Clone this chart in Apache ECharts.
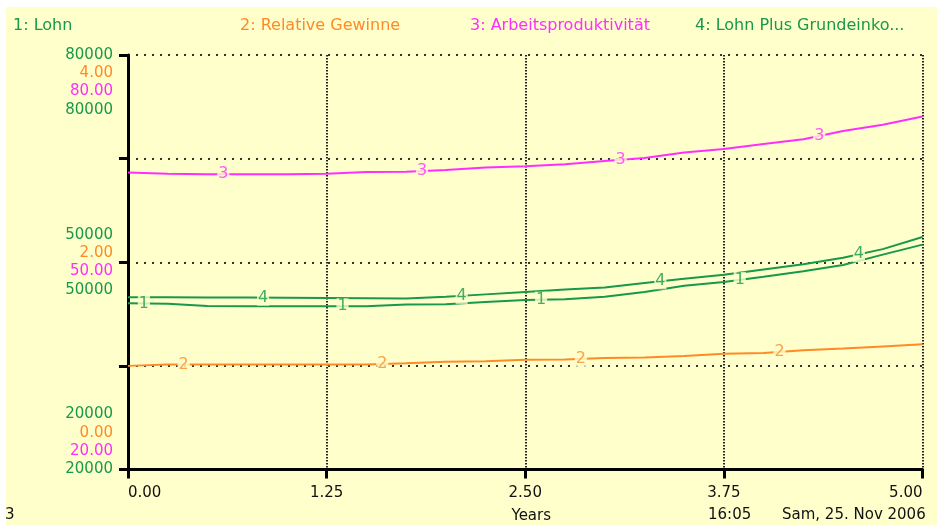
<!DOCTYPE html>
<html>
<head>
<meta charset="utf-8">
<script src="https://cdn.jsdelivr.net/npm/echarts@6/dist/echarts.min.js"></script>
<style>
  html, body { margin: 0; padding: 0; background: #ffffff; }
  #chart { width: 937px; height: 525px; }
</style>
</head>
<body>
<div id="chart"></div>
<script>
// ---- data ----
const seriesNames = ['1: Lohn', '2: Relative Gewinne', '3: Arbeitsproduktivität', '4: Lohn Plus Grundeinko...'];
const times = [0, 0.25, 0.5, 0.75, 1, 1.25, 1.5, 1.75, 2, 2.25, 2.5, 2.75, 3, 3.25, 3.5, 3.75, 4, 4.25, 4.5, 4.75, 5];
const lohn = [44050, 44000, 43650, 43620, 43620, 43620, 43640, 43900, 43920, 44250, 44550, 44650, 45000, 45700, 46600, 47150, 47900, 48700, 49600, 51100, 52550];
const gewinne = [1.00, 1.014, 1.014, 1.014, 1.014, 1.014, 1.014, 1.025, 1.041, 1.045, 1.060, 1.062, 1.075, 1.080, 1.095, 1.118, 1.125, 1.150, 1.168, 1.188, 1.208];
const produkt = [63.0, 62.8, 62.75, 62.75, 62.75, 62.8, 63.05, 63.1, 63.35, 63.7, 63.9, 64.2, 64.65, 65.1, 65.9, 66.4, 67.1, 67.8, 69.0, 69.9, 71.1];
const plus = [44950, 44950, 44900, 44880, 44850, 44830, 44800, 44760, 45000, 45350, 45700, 46050, 46350, 47000, 47600, 48200, 48950, 49700, 50650, 51900, 53650];

const xTicks = ['0.00', '1.25', '2.50', '3.75', '5.00'];
const lohnTicks = ['20000', '50000', '80000'];
const gewinneTicks = ['0.00', '2.00', '4.00'];
const produktTicks = ['20.00', '50.00', '80.00'];
const plusTicks = ['20000', '50000', '80000'];

// ---- styles ----
const GREEN = '#17984b';
const ORANGE = '#ff8a26';
const MAGENTA = '#ff2eff';
const BG = '#ffffcc';
const FONT = 'DejaVu Sans';
const colors = [GREEN, ORANGE, MAGENTA, GREEN];
const allData = [lohn, gewinne, produkt, plus];

function interp(ts, vs, t) {
  for (let i = 0; i < ts.length - 1; i++) {
    if (t >= ts[i] && t <= ts[i + 1]) {
      const f = (t - ts[i]) / (ts[i + 1] - ts[i]);
      return vs[i] + f * (vs[i + 1] - vs[i]);
    }
  }
  return vs[vs.length - 1];
}

const lineSeries = allData.map((vals, i) => ({
  name: seriesNames[i],
  type: 'line',
  yAxisIndex: i,
  showSymbol: false,
  symbol: 'none',
  silent: true,
  z: 2,
  lineStyle: { color: colors[i], width: 2 },
  itemStyle: { color: colors[i] },
  data: times.map((t, k) => [t, vals[k]])
}));

const labelSeries = allData.map((vals, i) => {
  const pts = [];
  for (let k = 0; k < 4; k++) {
    const t = 0.1 + 0.25 * i + 1.25 * k;
    pts.push([t, interp(times, vals, t)]);
  }
  return {
    name: 'marker' + (i + 1),
    type: 'scatter',
    yAxisIndex: i,
    symbol: 'circle',
    symbolSize: 1,
    silent: true,
    z: 5,
    itemStyle: { color: 'rgba(0,0,0,0)' },
    label: {
      show: true,
      position: 'inside',
      formatter: String(i + 1),
      color: colors[i],
      fontFamily: FONT,
      fontSize: 16,
      backgroundColor: BG,
      padding: [0, 1, 0, 1]
    },
    data: pts
  };
});

const LH = 18.3;
function yLabel(value) {
  let idx = -1;
  if (value === 0) idx = 0;
  else if (value === 2) idx = 1;
  else if (value === 4) idx = 2;
  if (idx < 0) return '';
  const lines = [
    '{g|' + lohnTicks[idx] + '}',
    '{o|' + gewinneTicks[idx] + '}',
    '{m|' + produktTicks[idx] + '}',
    '{g|' + plusTicks[idx] + '}'
  ];
  const blank = '{e| }';
  if (idx === 2) return [blank, blank, blank].concat(lines).join('\n');
  if (idx === 0) return lines.concat([blank, blank, blank]).join('\n');
  return lines.join('\n');
}

const legends = seriesNames.map((n, i) => ({
  data: [{ name: n, textStyle: { color: colors[i] } }],
  left: [8, 235, 465, 690][i],
  top: 18,
  padding: 0,
  icon: 'none',
  itemWidth: 0,
  itemHeight: 16,
  selectedMode: false,
  textStyle: { fontFamily: FONT, fontSize: 16, color: colors[i] }
}));

const hiddenY = (min, max) => ({ type: 'value', min: min, max: max, show: false, splitLine: { show: false } });

const option = {
  backgroundColor: BG,
  animation: false,
  legend: legends,
  grid: { left: 128, right: 14.5, top: 55, bottom: 55.5, containLabel: false, outerBoundsMode: 'none' },
  xAxis: {
    type: 'value',
    min: 0,
    max: 5,
    interval: 1.25,
    name: 'Years',
    nameLocation: 'middle',
    nameGap: 39,
    nameTextStyle: { color: '#111', fontFamily: FONT, fontSize: 15, padding: [0, 0, 0, 12] },
    axisLine: { show: true, lineStyle: { color: '#000', width: 3 } },
    axisTick: { show: true, length: 9, lineStyle: { color: '#000', width: 3 } },
    axisLabel: {
      color: '#111', fontFamily: FONT, fontSize: 15, margin: 16,
      alignMinLabel: 'left', alignMaxLabel: 'right',
      formatter: function (v) { const i = Math.round(v / 1.25); return xTicks[i] !== undefined ? xTicks[i] : ''; }
    },
    splitLine: { show: true, lineStyle: { color: '#222', width: 2, type: [1.5, 1.5] } }
  },
  yAxis: [
    hiddenY(20000, 80000),
    {
      type: 'value',
      min: 0,
      max: 4,
      interval: 1,
      position: 'left',
      axisLine: { show: true, lineStyle: { color: '#000', width: 3 } },
      axisTick: { show: true, length: 9, lineStyle: { color: '#000', width: 3 } },
      splitLine: { show: true, lineStyle: { color: '#333', width: 2, type: [2, 6] } },
      axisLabel: {
        margin: 15,
        formatter: yLabel,
        rich: {
          g: { color: GREEN, fontFamily: FONT, fontSize: 15, lineHeight: LH, align: 'right' },
          o: { color: ORANGE, fontFamily: FONT, fontSize: 15, lineHeight: LH, align: 'right' },
          m: { color: MAGENTA, fontFamily: FONT, fontSize: 15, lineHeight: LH, align: 'right' },
          e: { fontFamily: FONT, fontSize: 15, lineHeight: LH }
        }
      }
    },
    hiddenY(20, 80),
    hiddenY(20000, 80000)
  ],
  graphic: [
    { type: 'rect', left: 0, top: 0, z: 0, shape: { width: 937, height: 7 }, style: { fill: '#ffffff' } },
    { type: 'rect', left: 0, top: 0, z: 0, shape: { width: 6, height: 525 }, style: { fill: '#ffffff' } },
    { type: 'text', left: 5, top: 508, z: 10, style: { text: '3', fill: '#111', font: '15px "DejaVu Sans"' } },
    { type: 'text', left: 708, top: 508, z: 10, style: { text: '16:05', fill: '#111', font: '15px "DejaVu Sans"' } },
    { type: 'text', left: 782, top: 508, z: 10, style: { text: 'Sam, 25. Nov 2006', fill: '#111', font: '15px "DejaVu Sans"' } }
  ],
  series: lineSeries.concat(labelSeries)
};

const chart = echarts.init(document.getElementById('chart'), null, { renderer: 'canvas' });
chart.setOption(option);
</script>
</body>
</html>
